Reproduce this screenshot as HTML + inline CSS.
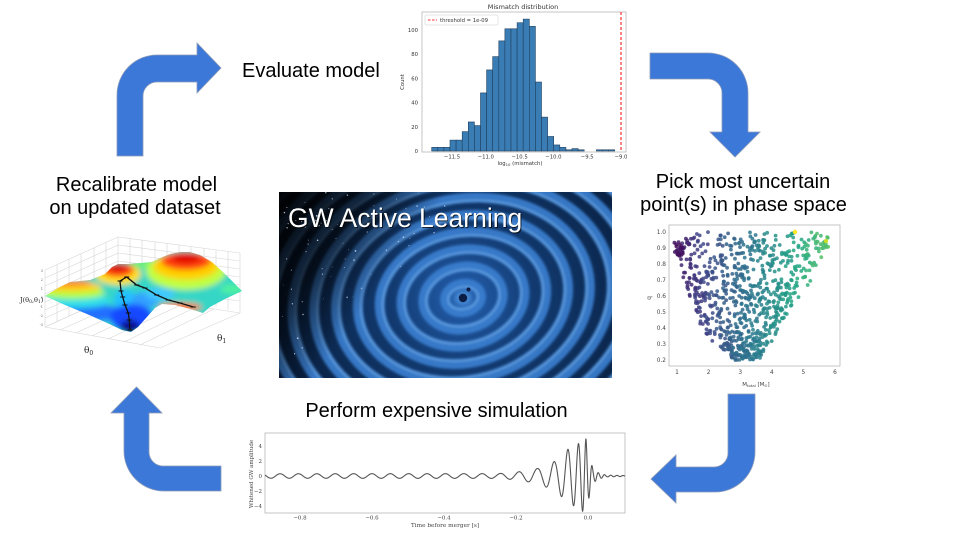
<!DOCTYPE html>
<html>
<head>
<meta charset="utf-8">
<style>
html,body{margin:0;padding:0;background:#fff;width:960px;height:540px;overflow:hidden}
svg{display:block}
</style>
</head>
<body>
<svg id="s" width="960" height="540" viewBox="0 0 960 540" xmlns="http://www.w3.org/2000/svg">
<defs>
 <radialGradient id="gwbg" cx="463" cy="298" r="240" gradientUnits="userSpaceOnUse">
  <stop offset="0" stop-color="#2460b0"/>
  <stop offset="0.3" stop-color="#123a70"/>
  <stop offset="0.7" stop-color="#0a2448"/>
  <stop offset="1" stop-color="#051228"/>
 </radialGradient>
 <linearGradient id="dark" x1="279" y1="192" x2="470" y2="330" gradientUnits="userSpaceOnUse">
  <stop offset="0" stop-color="#000" stop-opacity="0.97"/>
  <stop offset="0.3" stop-color="#000" stop-opacity="0.68"/>
  <stop offset="0.58" stop-color="#000" stop-opacity="0"/>
 </linearGradient>
 <filter id="blur3" x="-30%" y="-30%" width="160%" height="160%"><feGaussianBlur stdDeviation="3"/></filter>
 <filter id="blur1" x="-10%" y="-10%" width="120%" height="120%"><feGaussianBlur stdDeviation="1.2"/></filter>
 <filter id="blur2" x="-50%" y="-50%" width="200%" height="200%"><feGaussianBlur stdDeviation="2.5"/></filter>
 <clipPath id="gwc"><rect x="279" y="192" width="333" height="186"/></clipPath>
 <clipPath id="surf"><path d="M45,296 L58,288 L70,282 L90,280 L105,274 L112,267 L118,264 L128,264 L140,263 L152,262 L160,258 L170,254 L180,252 L190,252 L200,255 L212,262 L225,274 L235,284 L242,291 L225,299 L210,307 L203,313 L190,309 L175,305 L162,304 L155,308 L146,318 L138,327 L131,332 L122,330 L105,322 L87,314 L65,305 Z"/></clipPath>
</defs>

<!-- ========== ARROWS ========== -->
<g fill="#3c78d8" stroke="#8d9bb8" stroke-width="0.8" stroke-linejoin="miter">
 <path d="M117,156 L117,95 A40,40 0 0 1 157,55 L197,55 L197,43 L221,68 L197,93 L197,82 L157,82 A14,14 0 0 0 143,96 L143,156 Z"/>
 <path d="M650,53 L708,53 A40,40 0 0 1 748,93 L748,132 L760,132 L735,157 L710,132 L722,132 L722,93 A14,14 0 0 0 708,79 L650,79 Z"/>
 <path d="M728,394 L755,394 L755,452 A40,40 0 0 1 715,492 L676,492 L676,503 L651,479 L676,455 L676,467 L714,467 A14,14 0 0 0 728,453 Z"/>
 <path d="M221,466 L221,491 L164,491 A40,40 0 0 1 124,451 L124,413 L111,413 L136.5,387 L162,413 L149,413 L149,452 A14,14 0 0 0 163,466 Z"/>
</g>

<!-- ========== MAIN LABELS ========== -->
<g font-family="'Liberation Sans', Arial, sans-serif" font-size="20" fill="#000">
 <text x="242" y="77">Evaluate model</text>
 <text x="136.5" y="191" text-anchor="middle">Recalibrate model</text>
 <text x="135" y="214" text-anchor="middle">on updated dataset</text>
 <text x="743" y="188" text-anchor="middle">Pick most uncertain</text>
 <text x="743.5" y="211" text-anchor="middle">point(s) in phase space</text>
 <text x="436.5" y="417" text-anchor="middle">Perform expensive simulation</text>
</g>

<!-- ========== HISTOGRAM ========== -->
<g font-family="'DejaVu Sans', 'Liberation Sans', sans-serif" fill="#333">
 <text x="523" y="9" font-size="6.5" text-anchor="middle">Mismatch distribution</text>
 <g id="hist"></g>
 <rect x="422" y="12" width="204" height="140" fill="none" stroke="#b8b8b8" stroke-width="0.8"/>
 <line x1="621" y1="12" x2="621" y2="152" stroke="#ff3030" stroke-width="1.2" stroke-dasharray="3,2"/>
 <rect x="425" y="15" width="73" height="10" fill="#fff" fill-opacity="0.9" stroke="#ccc" stroke-width="0.5" rx="1"/>
 <line x1="428" y1="20" x2="437" y2="20" stroke="#ff3030" stroke-width="1" stroke-dasharray="2.5,1.5"/>
 <text x="440" y="22" font-size="5.3">threshold = 1e-09</text>
 <g font-size="5.3" text-anchor="end">
  <text x="418" y="153">0</text>
  <text x="418" y="129">20</text>
  <text x="418" y="104.5">40</text>
  <text x="418" y="80.5">60</text>
  <text x="418" y="56">80</text>
  <text x="418" y="32">100</text>
 </g>
 <g font-size="5.3" text-anchor="middle">
  <text x="452" y="158.5">−11.5</text>
  <text x="485.8" y="158.5">−11.0</text>
  <text x="519.6" y="158.5">−10.5</text>
  <text x="553.4" y="158.5">−10.0</text>
  <text x="587.2" y="158.5">−9.5</text>
  <text x="621" y="158.5">−9.0</text>
 </g>
 <text transform="translate(404,82) rotate(-90)" font-size="5.3" text-anchor="middle">Count</text>
 <text x="520" y="165" font-size="5.3" text-anchor="middle">log<tspan font-size="3.8" dy="1">10</tspan><tspan dy="-1"> (mismatch)</tspan></text>
</g>

<!-- ========== 3D SURFACE PLOT ========== -->
<g stroke="#d6d6d6" stroke-width="0.6" fill="none">
 <path d="M45,270 L118,237 M45,278 L118,245 M45,286 L118,253 M45,294 L118,261 M45,302 L118,269 M45,310 L118,277 M45,318 L118,285 M45,327 L118,294"/>
 <path d="M45,270 L45,327 M57,264.6 L57,321.6 M69,259.2 L69,316.2 M81,253.7 L81,310.7 M94,248 L94,305 M106,242.4 L106,299.4 M118,237 L118,294"/>
 <path d="M118,237 L240,253 M118,245 L240,261 M118,253 L240,269 M118,261 L240,277 M118,269 L240,285 M118,277 L240,293 M118,285 L240,301 M118,294 L240,313"/>
 <path d="M130,238.6 L130,295.6 M142,240.1 L142,297.1 M155,241.8 L155,298.8 M167,243.4 L167,300.4 M179,245 L179,302 M191,246.6 L191,303.6 M204,248.3 L204,305.3 M216,249.9 L216,306.9 M228,251.4 L228,310 M240,253 L240,313"/>
 <path d="M45,327 L160,348 L240,313 M118,294 L45,327 M60,330 L136,296 M76,333 L151,298 M92,336 L167,300 M108,339 L183,304 M124,342 L198,306 M140,345 L214,309"/>
</g>
<g clip-path="url(#surf)">
 <g filter="url(#blur3)">
  <rect x="30" y="240" width="230" height="110" fill="#34d6c6"/>
  <ellipse cx="85" cy="313" rx="42" ry="9" fill="#2070ff"/>
  <ellipse cx="75" cy="301" rx="36" ry="7" fill="#30e0e8"/>
  <ellipse cx="72" cy="293" rx="33" ry="6" fill="#b0ff40"/>
  <ellipse cx="72" cy="287" rx="30" ry="5" fill="#ffd020"/>
  <ellipse cx="70" cy="283" rx="22" ry="3" fill="#ff8010"/>
  <ellipse cx="125" cy="300" rx="11" ry="10" fill="#20c0ff"/>
  <ellipse cx="145" cy="300" rx="14" ry="8" fill="#30a0ff"/>
  <ellipse cx="160" cy="294" rx="15" ry="6" fill="#40c8ff"/>
  <ellipse cx="132" cy="318" rx="22" ry="14" fill="#1848ff"/>
  <ellipse cx="130" cy="327" rx="10" ry="7" fill="#10108c"/>
  <ellipse cx="118" cy="274" rx="23" ry="11" fill="#ffe020"/>
  <ellipse cx="118" cy="270" rx="16" ry="7" fill="#ff4010"/>
  <ellipse cx="118" cy="267" rx="9" ry="4" fill="#d00000"/>
  <ellipse cx="145" cy="264" rx="15" ry="4" fill="#70f070"/>
  <ellipse cx="186" cy="271" rx="40" ry="19" fill="#c0ff40"/>
  <ellipse cx="186" cy="266" rx="33" ry="14" fill="#ffd000"/>
  <ellipse cx="186" cy="261" rx="25" ry="9" fill="#ff4010"/>
  <ellipse cx="186" cy="258" rx="15" ry="5" fill="#e00000"/>
  <ellipse cx="232" cy="289" rx="12" ry="5" fill="#50f0a0"/>
  <ellipse cx="180" cy="307" rx="22" ry="4" fill="#ff7020"/>
 </g>
</g>
<g stroke="#111" stroke-width="1.3" fill="none">
 <polyline points="130,330 129.3,320 128.3,313 125,305 122.7,297 121,291 120,281 126.7,277 136.7,285 145,288 156.7,295 168.3,300 180,303 193.3,307"/>
 <path stroke-width="1" d="M127.5,330h5 M126.8,320h5 M125.8,313h5 M122.5,305h5 M120.2,297h5 M118.5,291h5 M117.5,281h5 M124.2,277h5 M134.2,285h5 M142.5,288h5 M154.2,295h5 M165.8,300h5 M177.5,303h5 M190.8,307h5"/>
</g>
<g font-family="'DejaVu Serif','Liberation Serif',serif" fill="#222">
 <text x="20" y="302" font-size="6.5">J(θ<tspan font-size="4.5" dy="1">0</tspan><tspan dy="-1">,θ</tspan><tspan font-size="4.5" dy="1">1</tspan><tspan dy="-1">)</tspan></text>
 <text x="84" y="353" font-size="9">θ<tspan font-size="6" dy="2">0</tspan></text>
 <text x="217" y="341" font-size="9">θ<tspan font-size="6" dy="2">1</tspan></text>
 <g font-size="3.5" fill="#666" text-anchor="end">
  <text x="43" y="272">3</text><text x="43" y="281">2</text><text x="43" y="290">1</text><text x="43" y="299">0</text><text x="43" y="308">-1</text><text x="43" y="317">-2</text><text x="43" y="326">-3</text>
 </g>
</g>

<!-- ========== GW IMAGE ========== -->
<g clip-path="url(#gwc)">
 <rect x="279" y="192" width="333" height="186" fill="url(#gwbg)"/>
 <g transform="translate(463 298) rotate(-12)" fill="none" filter="url(#blur1)">
  <g stroke="#3a80d0" stroke-width="10" stroke-opacity="0.9">
   <ellipse rx="18" ry="14"/><ellipse rx="40" ry="31"/><ellipse rx="62" ry="48"/><ellipse rx="84" ry="65"/>
   <ellipse rx="106" ry="82"/><ellipse rx="128" ry="99"/><ellipse rx="150" ry="116"/><ellipse rx="172" ry="133"/>
   <ellipse rx="194" ry="150"/><ellipse rx="216" ry="167"/><ellipse rx="238" ry="184"/><ellipse rx="260" ry="201"/>
  </g>
  <g stroke="#9ad2ff" stroke-width="1.6" stroke-opacity="0.5">
   <ellipse rx="15" ry="11"/><ellipse rx="37" ry="28"/><ellipse rx="59" ry="45"/><ellipse rx="81" ry="62"/>
   <ellipse rx="103" ry="79"/><ellipse rx="125" ry="96"/><ellipse rx="147" ry="113"/><ellipse rx="169" ry="130"/>
   <ellipse rx="191" ry="147"/><ellipse rx="213" ry="164"/><ellipse rx="235" ry="181"/><ellipse rx="257" ry="198"/>
  </g>
 </g>
 <rect x="279" y="192" width="333" height="186" fill="url(#dark)"/>
 <g id="stars"></g>
 <ellipse cx="463" cy="298" rx="9" ry="8" fill="#5aa2ea" opacity="0.6" filter="url(#blur2)"/>
 <circle cx="463" cy="298" r="4.2" fill="#0c1d45"/>
 <circle cx="468.5" cy="289.5" r="2" fill="#0c1d45"/>
 <text x="289" y="228" font-family="'Liberation Sans', Arial, sans-serif" font-size="26.5" fill="#000" fill-opacity="0.7">GW Active Learning</text>
 <text x="288" y="227" font-family="'Liberation Sans', Arial, sans-serif" font-size="26.5" fill="#fff">GW Active Learning</text>
</g>

<!-- ========== SCATTER ========== -->
<g id="scat"></g>
<g font-family="'DejaVu Sans','Liberation Sans',sans-serif" fill="#444">
 <rect x="669" y="225" width="171" height="141" fill="none" stroke="#b8b8b8" stroke-width="0.8"/>
 <g font-size="5.8" text-anchor="end">
  <text x="666" y="234">1.0</text><text x="666" y="250">0.9</text><text x="666" y="266">0.8</text>
  <text x="666" y="282">0.7</text><text x="666" y="298">0.6</text><text x="666" y="314">0.5</text>
  <text x="666" y="330">0.4</text><text x="666" y="346">0.3</text><text x="666" y="362">0.2</text>
 </g>
 <g font-size="5.8" text-anchor="middle">
  <text x="677" y="374">1</text><text x="708.6" y="374">2</text><text x="740.2" y="374">3</text>
  <text x="771.8" y="374">4</text><text x="803.4" y="374">5</text><text x="835" y="374">6</text>
 </g>
 <text transform="translate(651,298) rotate(-90)" font-size="6" text-anchor="middle">q</text>
 <text x="756" y="386" font-size="5.5" text-anchor="middle">M<tspan font-size="3.8" dy="1">total</tspan><tspan dy="-1"> [M</tspan><tspan font-size="3.8" dy="1">⊙</tspan><tspan dy="-1">]</tspan></text>
</g>

<!-- ========== WAVEFORM ========== -->
<g font-family="'DejaVu Serif','Liberation Serif',serif" fill="#444">
 <rect x="265" y="433" width="360" height="80" fill="none" stroke="#b8b8b8" stroke-width="0.8"/>
 <path id="wave" d="" fill="none" stroke="#555" stroke-width="1.1"/>
 <g font-size="5.5" text-anchor="end">
  <text x="262" y="448">4</text><text x="262" y="463">2</text><text x="262" y="478">0</text>
  <text x="262" y="493">−2</text><text x="262" y="508">−4</text>
 </g>
 <g font-size="5.5" text-anchor="middle">
  <text x="300" y="519.5">−0.8</text><text x="372" y="519.5">−0.6</text><text x="444" y="519.5">−0.4</text>
  <text x="516" y="519.5">−0.2</text><text x="588" y="519.5">0.0</text>
 </g>
 <text x="445" y="527" font-size="5.8" text-anchor="middle">Time before merger [s]</text>
 <text transform="translate(253,474) rotate(-90)" font-size="5.5" text-anchor="middle">Whitened GW amplitude</text>
</g>
</svg>

<script>
(function(){
const NS="http://www.w3.org/2000/svg";
function el(tag,attrs,parent){const e=document.createElementNS(NS,tag);for(const k in attrs)e.setAttribute(k,attrs[k]);parent.appendChild(e);return e;}
let seed=987654;
function rnd(){seed|=0;seed=seed+0x6D2B79F5|0;let t=Math.imul(seed^seed>>>15,1|seed);t=t+Math.imul(t^t>>>7,61|t)^t;return((t^t>>>14)>>>0)/4294967296;}

const hg=document.getElementById('hist');
const counts=[3,3,3,9,9,16,24,21,48,67,78,91,101,101,106,109,103,57,28,12,5,3,1,2,1,0,0,1,1,1];
counts.forEach((c,i)=>{if(!c)return;const h=c*1.21;el('rect',{x:(431.7+i*6.1).toFixed(2),y:(151-h).toFixed(2),width:6.1,height:h.toFixed(2),fill:'#3a7db5',stroke:'#1e3f5e','stroke-width':0.6},hg);});

const sg=document.getElementById('scat');
const ys=[232,250,280,312,340,362],Ls=[688,675,684,693,710,737],Rs=[833,828,812,788,773,758];
function interp(arr,y){for(let i=0;i<ys.length-1;i++){if(y<=ys[i+1]){const f=(y-ys[i])/(ys[i+1]-ys[i]);return arr[i]+f*(arr[i+1]-arr[i]);}}return arr[arr.length-1];}
const vir=[[68,1,84],[65,68,135],[42,120,142],[34,168,132],[122,209,81],[253,231,37]];
function vc(t){t=Math.max(0,Math.min(1,t));const p=t*5,i=Math.min(4,Math.floor(p)),f=p-i;const a=vir[i],b=vir[i+1];return 'rgb('+Math.round(a[0]+(b[0]-a[0])*f)+','+Math.round(a[1]+(b[1]-a[1])*f)+','+Math.round(a[2]+(b[2]-a[2])*f)+')';}
for(let n=0;n<800;n++){const y=232+rnd()*128;const L=interp(Ls,y),R=interp(Rs,y);const x=L+rnd()*(R-L);const t=0.08+(x-675)*0.0042+(rnd()-0.5)*0.06;el('circle',{cx:x.toFixed(1),cy:y.toFixed(1),r:1.9,fill:vc(t),'fill-opacity':0.85},sg);}
for(let n=0;n<22;n++){const x=674+rnd()*9,y=242+rnd()*16;el('circle',{cx:x.toFixed(1),cy:y.toFixed(1),r:1.9,fill:vc(0.02+rnd()*0.05),'fill-opacity':0.85},sg);}
el('circle',{cx:795,cy:232,r:2.2,fill:'#fde725'},sg);
el('circle',{cx:826,cy:241,r:2,fill:'#c8e020'},sg);

const amp=[[-0.9,0.3],[-0.25,0.32],[-0.2,0.5],[-0.14,1.0],[-0.09,2.0],[-0.055,3.6],[-0.03,4.2],[-0.006,5.0],[0.004,2.6],[0.014,0.9],[0.03,0.4],[0.05,0.12],[0.11,0.05]];
function ia(t){for(let i=0;i<amp.length-1;i++){if(t<=amp[i+1][0]){const f=(t-amp[i][0])/(amp[i+1][0]-amp[i][0]);return amp[i][1]+f*(amp[i+1][1]-amp[i][1]);}}return 0.05;}
const dt=0.0003;const T=[],P=[];let ph=0,phRef=null;
for(let t=-0.897;t<=0.103;t+=dt){let f=t<0.004?Math.max(19.6,19.6*Math.sqrt(0.15/(0.01-t))):60;if(f>58)f=58;ph+=2*Math.PI*f*dt;T.push(t);P.push(ph);if(phRef===null&&t>=-0.006)phRef=ph;}
let d='';
for(let i=0;i<T.length;i++){const t=T[i];const h=ia(t)*Math.cos(P[i]-phRef);const x=588+360*t,y=476-7.5*h;d+=(i?'L':'M')+x.toFixed(2)+','+y.toFixed(2);}
document.getElementById('wave').setAttribute('d',d);

const st=document.getElementById('stars');
for(let n=0;n<260;n++){const x=279+rnd()*190,y=192+rnd()*186;const s=(x-279)/190+(y-192)/186;if(s>1.05||rnd()<s*0.6)continue;el('circle',{cx:x.toFixed(1),cy:y.toFixed(1),r:(0.35+rnd()*0.55).toFixed(2),fill:'#d8e6ff','fill-opacity':(0.3+rnd()*0.6).toFixed(2)},st);}
})();
</script>
</body>
</html>
